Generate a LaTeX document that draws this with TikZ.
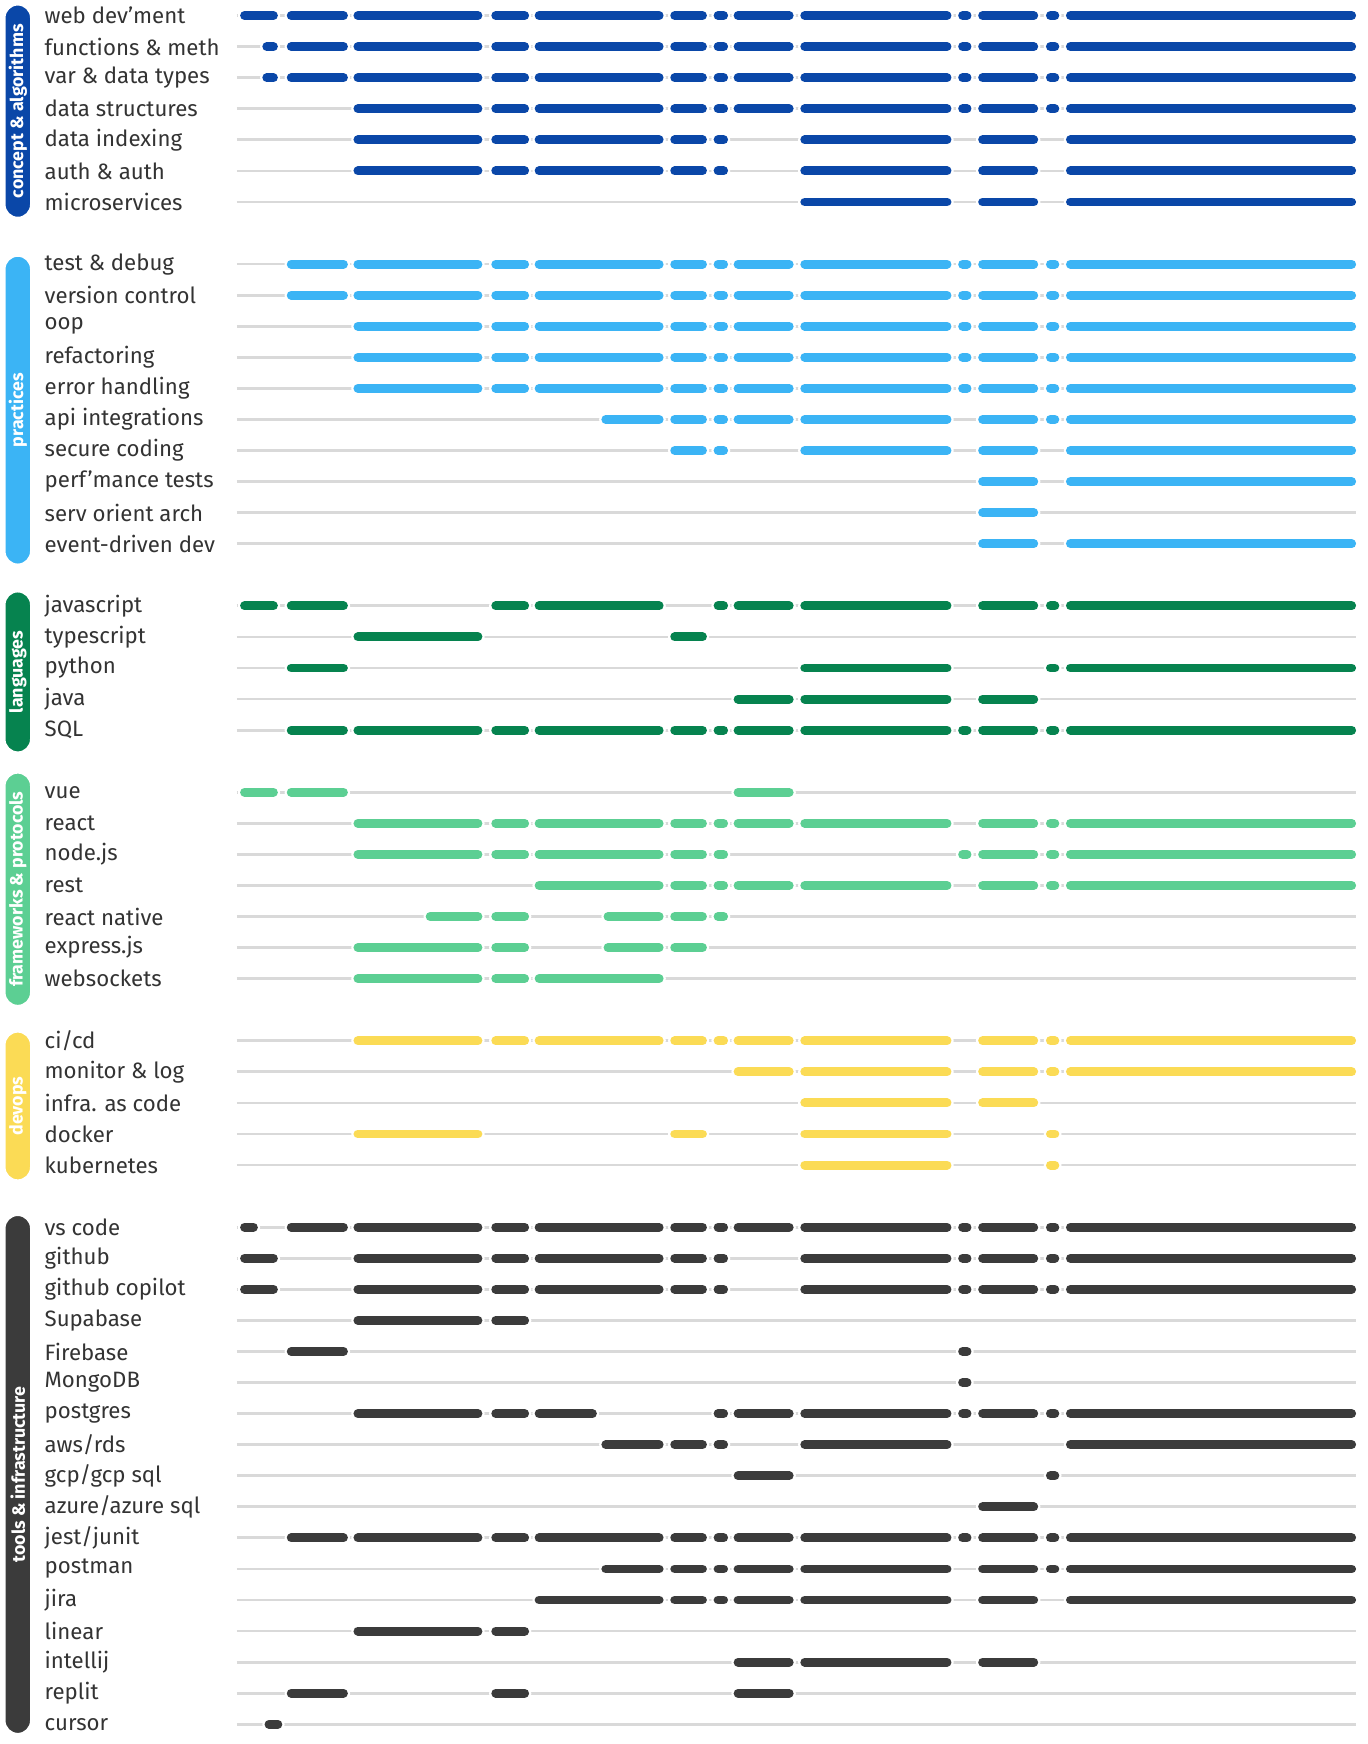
\documentclass[tikz,border=0pt]{standalone}
\usepackage{fontspec}
\setmainfont{Fira Sans}
\definecolor{cCon}{HTML}{0A47A8}
\definecolor{cPra}{HTML}{3BB4F5}
\definecolor{cLan}{HTML}{06834F}
\definecolor{cFra}{HTML}{5CCF93}
\definecolor{cDev}{HTML}{FBDB55}
\definecolor{cToo}{HTML}{3B3B3B}
\definecolor{cBase}{HTML}{D9D9D9}
\def\colL{{216,258,318,442,481,603,642,660,720,862,880,941,959}}
\def\colR{{250,313,434,476,597,636,655,714,856,874,934,953,1220}}
\tikzset{
 lab/.style={anchor=west,inner sep=0pt,font=\fontsize{20}{24}\selectfont,text=black!80},
 baseln/.style={cBase,line width=2.5pt},
 segw/.style={white,line width=12pt,line cap=round},
 segc/.style={line width=8pt,line cap=round},
 grp/.style={rounded corners=12pt,draw=white,line width=2pt},
 grplab/.style={rotate=90,text=white,font=\bfseries\fontsize{16}{18}\selectfont}
}
\newcommand\skrow[4]{%
 \pgfmathsetmacro\yy{-(14+27.95*#1)}%
 \node[lab] (r#1) at (40,\yy) {#2};
 \draw[baseln] (213,\yy) -- (1220,\yy);
 \foreach \a/\b in {#4}{%
  \ifnum\b=0
   \pgfmathsetmacro\xa{\colL[\a-1]}\pgfmathsetmacro\xb{\colR[\a-1]}%
  \else
   \pgfmathsetmacro\xa{\a}\pgfmathsetmacro\xb{\b}%
  \fi
  \draw[segw] (\xa+4,\yy) -- (\xb-4,\yy);
  \draw[segc,#3] (\xa+4,\yy) -- (\xb-4,\yy);
 }%
}
\newcommand\skgrp[5]{%
 \draw[grp,fill=#3] (4,-#1) rectangle (28,-#2);
 \node[grplab] (g#5) at (16,{-(#1+#2)/2}) {#4};
}
\begin{document}
\begin{tikzpicture}[x=1pt,y=1pt]
\useasboundingbox[fill=white] (0,0) rectangle (1230,-1569);
\skgrp{4}{196}{cCon}{concept \& algorithms}{1}
\skgrp{230}{508}{cPra}{practices}{2}
\skgrp{532}{677}{cLan}{languages}{3}
\skgrp{695}{905}{cFra}{frameworks \& protocols}{4}
\skgrp{928}{1062}{cDev}{devops}{5}
\skgrp{1093}{1560}{cToo}{tools \& infrastructure}{6}
% concept
\skrow{0}{web dev’ment}{cCon}{1/0,2/0,3/0,4/0,5/0,6/0,7/0,8/0,9/0,10/0,11/0,12/0,13/0}
\skrow{1}{functions \& meth}{cCon}{236/250,2/0,3/0,4/0,5/0,6/0,7/0,8/0,9/0,10/0,11/0,12/0,13/0}
\skrow{2}{var \& data types}{cCon}{236/250,2/0,3/0,4/0,5/0,6/0,7/0,8/0,9/0,10/0,11/0,12/0,13/0}
\skrow{3}{data structures}{cCon}{3/0,4/0,5/0,6/0,7/0,8/0,9/0,10/0,11/0,12/0,13/0}
\skrow{4}{data indexing}{cCon}{3/0,4/0,5/0,6/0,7/0,9/0,11/0,13/0}
\skrow{5}{auth \& auth}{cCon}{3/0,4/0,5/0,6/0,7/0,9/0,11/0,13/0}
\skrow{6}{microservices}{cCon}{9/0,11/0,13/0}
% practices
\skrow{8}{test \& debug}{cPra}{2/0,3/0,4/0,5/0,6/0,7/0,8/0,9/0,10/0,11/0,12/0,13/0}
\skrow{9}{version control}{cPra}{2/0,3/0,4/0,5/0,6/0,7/0,8/0,9/0,10/0,11/0,12/0,13/0}
\skrow{10}{oop}{cPra}{3/0,4/0,5/0,6/0,7/0,8/0,9/0,10/0,11/0,12/0,13/0}
\skrow{11}{refactoring}{cPra}{3/0,4/0,5/0,6/0,7/0,8/0,9/0,10/0,11/0,12/0,13/0}
\skrow{12}{error handling}{cPra}{3/0,4/0,5/0,6/0,7/0,8/0,9/0,10/0,11/0,12/0,13/0}
\skrow{13}{api integrations}{cPra}{541/597,6/0,7/0,8/0,9/0,11/0,12/0,13/0}
\skrow{14}{secure coding}{cPra}{6/0,7/0,9/0,11/0,13/0}
\skrow{15}{perf’mance tests}{cPra}{11/0,13/0}
\skrow{16}{serv orient arch}{cPra}{11/0}
\skrow{17}{event-driven dev}{cPra}{11/0,13/0}
% languages
\skrow{19}{javascript}{cLan}{1/0,2/0,4/0,5/0,7/0,8/0,9/0,11/0,12/0,13/0}
\skrow{20}{typescript}{cLan}{3/0,6/0}
\skrow{21}{python}{cLan}{2/0,9/0,12/0,13/0}
\skrow{22}{java}{cLan}{8/0,9/0,11/0}
\skrow{23}{SQL}{cLan}{2/0,3/0,4/0,5/0,6/0,7/0,8/0,9/0,10/0,11/0,12/0,13/0}
% frameworks
\skrow{25}{vue}{cFra}{1/0,2/0,8/0}
\skrow{26}{react}{cFra}{3/0,4/0,5/0,6/0,7/0,8/0,9/0,11/0,12/0,13/0}
\skrow{27}{node.js}{cFra}{3/0,4/0,5/0,6/0,7/0,10/0,11/0,12/0,13/0}
\skrow{28}{rest}{cFra}{5/0,6/0,7/0,8/0,9/0,11/0,12/0,13/0}
\skrow{29}{react native}{cFra}{383/434,4/0,543/597,6/0,7/0}
\skrow{30}{express.js}{cFra}{3/0,4/0,543/597,6/0}
\skrow{31}{websockets}{cFra}{3/0,4/0,5/0}
% devops
\skrow{33}{ci/cd}{cDev}{3/0,4/0,5/0,6/0,7/0,8/0,9/0,11/0,12/0,13/0}
\skrow{34}{monitor \& log}{cDev}{8/0,9/0,11/0,12/0,13/0}
\skrow{35}{infra. as code}{cDev}{9/0,11/0}
\skrow{36}{docker}{cDev}{3/0,6/0,9/0,12/0}
\skrow{37}{kubernetes}{cDev}{9/0,12/0}
% tools
\skrow{39}{vs code}{cToo}{216/232,2/0,3/0,4/0,5/0,6/0,7/0,8/0,9/0,10/0,11/0,12/0,13/0}
\skrow{40}{github}{cToo}{1/0,3/0,4/0,5/0,6/0,7/0,9/0,10/0,11/0,12/0,13/0}
\skrow{41}{github copilot}{cToo}{1/0,3/0,4/0,5/0,6/0,7/0,9/0,10/0,11/0,12/0,13/0}
\skrow{42}{Supabase}{cToo}{3/0,4/0}
\skrow{43}{Firebase}{cToo}{2/0,10/0}
\skrow{44}{MongoDB}{cToo}{10/0}
\skrow{45}{postgres}{cToo}{3/0,4/0,481/537,7/0,8/0,9/0,10/0,11/0,12/0,13/0}
\skrow{46}{aws/rds}{cToo}{541/597,6/0,7/0,9/0,13/0}
\skrow{47}{gcp/gcp sql}{cToo}{8/0,12/0}
\skrow{48}{azure/azure sql}{cToo}{11/0}
\skrow{49}{jest/junit}{cToo}{2/0,3/0,4/0,5/0,6/0,7/0,8/0,9/0,10/0,11/0,12/0,13/0}
\skrow{50}{postman}{cToo}{541/597,6/0,7/0,8/0,9/0,11/0,12/0,13/0}
\skrow{51}{jira}{cToo}{5/0,6/0,7/0,8/0,9/0,11/0,13/0}
\skrow{52}{linear}{cToo}{3/0,4/0}
\skrow{53}{intellij}{cToo}{8/0,9/0,11/0}
\skrow{54}{replit}{cToo}{2/0,4/0,8/0}
\skrow{55}{cursor}{cToo}{238/254}
\end{tikzpicture}
\end{document}
